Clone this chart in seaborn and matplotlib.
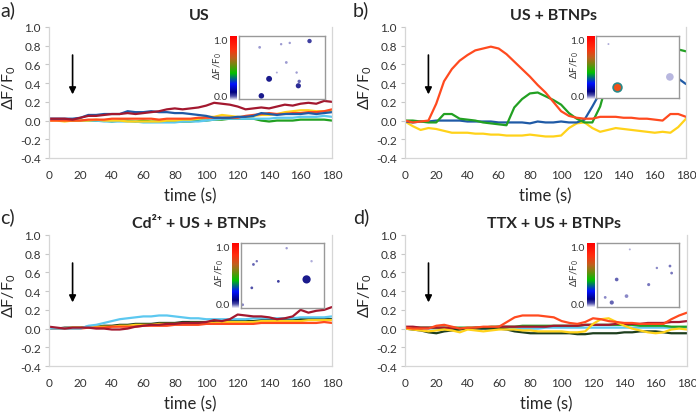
import numpy as np
import matplotlib
matplotlib.use("Agg")
import matplotlib.pyplot as plt
from matplotlib.colors import LinearSegmentedColormap
import seaborn as sns

# ---------------- DATA ---------------- #
time_s = list(range(0, 181, 5))

# a) US
a_maroon = [0.02, 0.02, 0.02, 0.01, 0.03, 0.05, 0.05, 0.06, 0.07, 0.07, 0.08, 0.07, 0.08, 0.09, 0.10,
            0.12, 0.13, 0.12, 0.13, 0.14, 0.16, 0.19, 0.18, 0.17, 0.15, 0.12, 0.13, 0.14, 0.13, 0.15,
            0.17, 0.16, 0.18, 0.19, 0.18, 0.21, 0.20]
a_blue = [0.02, 0.02, 0.02, 0.02, 0.03, 0.06, 0.06, 0.07, 0.07, 0.07, 0.10, 0.09, 0.09, 0.10, 0.09,
          0.09, 0.08, 0.08, 0.07, 0.06, 0.05, 0.03, 0.03, 0.03, 0.04, 0.04, 0.05, 0.08, 0.07, 0.06,
          0.07, 0.07, 0.07, 0.08, 0.07, 0.08, 0.09]
a_orange = [0.00, 0.00, 0.00, 0.00, 0.00, 0.01, 0.01, 0.01, 0.02, 0.02, 0.02, 0.02, 0.02, 0.02, 0.01,
            0.02, 0.02, 0.02, 0.02, 0.03, 0.03, 0.03, 0.03, 0.03, 0.03, 0.05, 0.06, 0.07, 0.08, 0.07,
            0.07, 0.08, 0.08, 0.09, 0.09, 0.10, 0.12]
a_yellow = [0.00, 0.00, -0.01, 0.00, 0.00, 0.00, 0.01, 0.00, 0.00, 0.00, -0.01, -0.01, -0.01, -0.01, -0.01,
            0.00, 0.00, 0.01, 0.01, 0.02, 0.04, 0.04, 0.06, 0.05, 0.04, 0.04, 0.05, 0.06, 0.06, 0.07,
            0.09, 0.10, 0.11, 0.11, 0.10, 0.10, 0.10]
a_cyan = [0.01, 0.01, 0.01, 0.01, 0.00, 0.00, 0.00, -0.01, -0.01, -0.01, -0.01, -0.01, -0.02, -0.02, -0.02,
          -0.02, -0.02, -0.01, -0.01, -0.01, 0.00, 0.01, 0.02, 0.02, 0.02, 0.02, 0.02, 0.02, 0.02, 0.03,
          0.03, 0.03, 0.04, 0.04, 0.04, 0.05, 0.04]
a_green = [0.01, 0.01, 0.00, 0.00, 0.00, 0.00, 0.00, 0.00, -0.01, 0.00, 0.00, -0.01, 0.00, -0.01, -0.01,
           -0.01, -0.01, -0.01, -0.01, 0.00, 0.00, 0.01, 0.01, 0.02, 0.02, 0.02, 0.02, 0.00, -0.01, 0.00,
           0.00, 0.00, 0.01, 0.01, 0.01, 0.01, 0.00]

# b) US + BTNPs
b_orange = [0.00, -0.02, -0.01, 0.00, 0.18, 0.42, 0.55, 0.64, 0.70, 0.75, 0.77, 0.79, 0.77, 0.71, 0.63,
            0.55, 0.47, 0.38, 0.30, 0.20, 0.10, 0.05, 0.03, 0.02, 0.02, 0.04, 0.04, 0.04, 0.03, 0.03,
            0.02, 0.02, 0.01, 0.00, 0.07, 0.07, 0.04]
b_green = [0.00, 0.00, -0.01, -0.02, -0.02, 0.07, 0.07, 0.02, 0.01, 0.00, -0.02, -0.03, -0.04, -0.05, 0.14,
           0.23, 0.29, 0.30, 0.26, 0.22, 0.17, 0.08, 0.02, -0.02, -0.02, 0.15, 0.45, 0.62, 0.72, 0.77,
           0.79, 0.80, 0.79, 0.78, 0.77, 0.76, 0.74]
b_blue = [-0.01, -0.02, -0.01, -0.01, 0.00, 0.00, 0.00, 0.00, -0.01, -0.01, -0.01, -0.01, -0.02, -0.02, -0.02,
          -0.02, -0.03, -0.01, -0.02, -0.02, -0.01, -0.02, -0.02, 0.01, 0.15, 0.30, 0.42, 0.50, 0.55, 0.57,
          0.58, 0.57, 0.55, 0.52, 0.48, 0.45, 0.39]
b_yellow = [-0.01, -0.06, -0.10, -0.08, -0.09, -0.11, -0.13, -0.13, -0.13, -0.14, -0.14, -0.15, -0.15, -0.16, -0.16,
            -0.16, -0.15, -0.16, -0.17, -0.17, -0.16, -0.08, -0.03, -0.02, -0.08, -0.12, -0.10, -0.08, -0.09, -0.10,
            -0.11, -0.12, -0.13, -0.12, -0.13, -0.07, 0.02]

# c) Cd2+ + US + BTNPs
c_cyan = [0.00, 0.00, 0.00, 0.00, 0.00, 0.03, 0.04, 0.06, 0.08, 0.10, 0.11, 0.12, 0.13, 0.13, 0.14,
          0.14, 0.13, 0.12, 0.11, 0.11, 0.10, 0.10, 0.10, 0.10, 0.10, 0.10, 0.11, 0.11, 0.11, 0.11,
          0.11, 0.11, 0.12, 0.12, 0.12, 0.12, 0.13]
c_maroon = [0.02, 0.01, 0.00, 0.01, 0.01, 0.01, 0.00, 0.00, -0.01, -0.01, 0.00, 0.02, 0.03, 0.04, 0.04,
            0.05, 0.05, 0.06, 0.06, 0.06, 0.07, 0.09, 0.08, 0.10, 0.15, 0.14, 0.13, 0.13, 0.12, 0.10,
            0.11, 0.13, 0.20, 0.17, 0.19, 0.20, 0.23]
c_dkgreen = [0.00, 0.00, 0.01, 0.01, 0.01, 0.02, 0.02, 0.03, 0.03, 0.04, 0.04, 0.05, 0.05, 0.05, 0.06,
             0.06, 0.06, 0.07, 0.07, 0.07, 0.07, 0.07, 0.08, 0.08, 0.08, 0.08, 0.08, 0.09, 0.09, 0.09,
             0.09, 0.09, 0.10, 0.10, 0.10, 0.10, 0.10]
c_yellow = [0.00, 0.00, 0.00, 0.01, 0.01, 0.01, 0.02, 0.02, 0.02, 0.03, 0.03, 0.04, 0.04, 0.04, 0.05,
            0.05, 0.05, 0.05, 0.06, 0.06, 0.06, 0.06, 0.07, 0.07, 0.07, 0.07, 0.07, 0.08, 0.08, 0.08,
            0.08, 0.08, 0.08, 0.09, 0.09, 0.09, 0.09]
c_orange = [0.00, 0.00, 0.00, 0.00, 0.00, 0.01, 0.01, 0.01, 0.02, 0.02, 0.02, 0.02, 0.03, 0.03, 0.03,
            0.03, 0.04, 0.04, 0.04, 0.04, 0.05, 0.05, 0.05, 0.05, 0.05, 0.05, 0.05, 0.06, 0.06, 0.06,
            0.06, 0.06, 0.06, 0.06, 0.06, 0.07, 0.06]

# d) TTX + US + BTNPs
d_cyan = [0.00, 0.00, 0.00, 0.00, 0.00, 0.00, 0.00, 0.00, 0.00, 0.00, 0.00, 0.00, 0.00, 0.00, 0.00,
          0.00, 0.00, 0.00, 0.01, 0.01, 0.01, 0.01, 0.01, 0.01, 0.01, 0.01, 0.01, 0.01, 0.01, 0.01,
          0.01, 0.01, 0.01, 0.01, 0.01, 0.01, 0.01]
d_green = [0.01, 0.01, 0.01, 0.01, 0.01, 0.01, 0.01, 0.01, 0.01, 0.01, 0.01, 0.02, 0.02, 0.02, 0.02,
           0.03, 0.03, 0.03, 0.03, 0.03, 0.03, 0.03, 0.03, 0.04, 0.04, 0.04, 0.04, 0.04, 0.04, 0.04,
           0.03, 0.03, 0.03, 0.03, 0.02, 0.02, 0.02]
d_maroon = [0.02, 0.02, 0.01, 0.01, 0.01, 0.01, 0.00, 0.00, 0.00, 0.01, 0.01, 0.01, 0.02, 0.02, 0.02,
            0.02, 0.02, 0.02, 0.02, 0.03, 0.03, 0.03, 0.03, 0.04, 0.04, 0.04, 0.04, 0.05, 0.05, 0.05,
            0.05, 0.06, 0.06, 0.06, 0.07, 0.07, 0.08]
d_dkgreen = [0.00, -0.01, -0.02, -0.04, -0.05, -0.03, -0.02, -0.01, 0.00, 0.00, 0.00, 0.00, 0.00, -0.01, -0.03,
             -0.04, -0.05, -0.05, -0.05, -0.05, -0.05, -0.05, -0.06, -0.06, -0.05, -0.05, -0.05, -0.05, -0.04, -0.04,
             -0.03, -0.03, -0.03, -0.04, -0.05, -0.05, -0.05]
d_yellow = [0.00, -0.01, -0.02, -0.03, -0.02, -0.01, -0.02, -0.04, -0.01, -0.02, -0.03, -0.02, -0.01, -0.01, -0.01,
            -0.02, -0.02, -0.03, -0.03, -0.03, -0.03, -0.04, -0.04, -0.03, 0.05, 0.10, 0.11, 0.07, 0.03, 0.00,
            -0.02, -0.04, -0.05, -0.04, -0.01, 0.00, -0.01]
d_orange = [0.01, 0.00, 0.00, 0.00, 0.03, 0.04, 0.02, 0.00, 0.01, 0.01, 0.02, 0.02, 0.02, 0.07, 0.12,
            0.14, 0.14, 0.14, 0.13, 0.12, 0.08, 0.06, 0.05, 0.07, 0.11, 0.10, 0.08, 0.07, 0.06, 0.06,
            0.05, 0.05, 0.05, 0.05, 0.10, 0.14, 0.17]

# inset "cells" (x, y in the image box, 0..1), size, shade (0 faint .. 1 dark)
a_cells_x = [0.26, 0.35, 0.69, 0.82, 0.24, 0.49, 0.59, 0.55, 0.67, 0.44, 0.70]
a_cells_y = [0.05, 0.32, 0.21, 0.92, 0.82, 0.87, 0.89, 0.58, 0.42, 0.42, 0.28]
a_cells_s = [16, 18, 14, 10, 4, 3, 3, 4, 3, 2, 6]
a_cells_k = [1.0, 1.0, 0.9, 0.8, 0.3, 0.3, 0.3, 0.3, 0.3, 0.2, 0.6]
b_cells_x = [0.89, 0.15]
b_cells_y = [0.34, 0.87]
b_cells_s = [30, 2]
b_cells_k = [0.15, 0.2]
c_cells_x = [0.79, 0.15, 0.19, 0.45, 0.13, 0.55, 0.85, 0.02]
c_cells_y = [0.44, 0.67, 0.72, 0.41, 0.31, 0.92, 0.72, 0.05]
c_cells_s = [35, 4, 3, 4, 4, 3, 3, 4]
c_cells_k = [1.0, 0.6, 0.5, 0.8, 0.7, 0.3, 0.2, 0.4]
d_cells_x = [0.18, 0.10, 0.24, 0.36, 0.63, 0.73, 0.89, 0.91, 0.40]
d_cells_y = [0.07, 0.15, 0.43, 0.17, 0.35, 0.61, 0.64, 0.53, 0.90]
d_cells_s = [9, 4, 7, 7, 5, 3, 4, 4, 2]
d_cells_k = [0.6, 0.4, 0.6, 0.4, 0.5, 0.4, 0.5, 0.5, 0.2]
b_hot_x = [0.25]
b_hot_y = [0.18]

# ---------------- STYLE ---------------- #
sns.set_style("white")
plt.rcParams["font.family"] = ["Lato", "DejaVu Sans"]
plt.rcParams["mathtext.fontset"] = "custom"
plt.rcParams["mathtext.rm"] = "Lato"
plt.rcParams["mathtext.it"] = "Lato:italic"
plt.rcParams["mathtext.bf"] = "Lato:bold"

MAROON = "#a3182f"
BLUE = "#1f5aa6"
ORANGE = "#ff4a1f"
YELLOW = "#ffd21a"
CYAN = "#5cc8f0"
GREEN = "#22a022"
DKGREEN = "#1e3f1e"

W, H = 696, 414
fig = plt.figure(figsize=(W / 100, H / 100), dpi=100)


def px_axes(left, top, right, bottom):
    return fig.add_axes([left / W, 1 - bottom / H, (right - left) / W, (bottom - top) / H])


cmap = LinearSegmentedColormap.from_list("dff", [
    (0.0, "#f2f0fa"), (0.06, "#4a4aa8"), (0.12, "#000080"), (0.25, "#0010ff"),
    (0.42, "#00c000"), (0.55, "#6f8a10"), (0.66, "#c0601e"), (0.8, "#ff3010"), (1.0, "#ff0000")])
cell_cmap = LinearSegmentedColormap.from_list("cell", ["#d4d2ee", "#1a1a8c"])

panels = [
    dict(letter="a)", title="US", box=(49, 28, 332, 159), lx=0, ly=0,
         lines=[(a_green, GREEN), (a_cyan, CYAN), (a_yellow, YELLOW), (a_orange, ORANGE),
                (a_blue, BLUE), (a_maroon, MAROON)],
         cbar=(230, 37, 237, 101), img=(239, 37, 325, 100),
         cells=(a_cells_x, a_cells_y, a_cells_s, a_cells_k)),
    dict(letter="b)", title="US + BTNPs", box=(405, 28, 686, 159), lx=353, ly=0,
         lines=[(b_yellow, YELLOW), (b_blue, BLUE), (b_green, GREEN), (b_orange, ORANGE)],
         cbar=(587, 37, 595, 100), img=(596, 37, 679, 99),
         cells=(b_cells_x, b_cells_y, b_cells_s, b_cells_k)),
    dict(letter="c)", title="Cd²⁺ + US + BTNPs", box=(49, 236, 332, 367), lx=0, ly=207,
         lines=[(c_dkgreen, DKGREEN), (c_yellow, YELLOW), (c_orange, ORANGE),
                (c_cyan, CYAN), (c_maroon, MAROON)],
         cbar=(232, 244, 239, 309), img=(241, 244, 324, 309),
         cells=(c_cells_x, c_cells_y, c_cells_s, c_cells_k)),
    dict(letter="d)", title="TTX + US + BTNPs", box=(405, 236, 687, 367), lx=353, ly=207,
         lines=[(d_cyan, CYAN), (d_green, GREEN), (d_maroon, MAROON), (d_dkgreen, DKGREEN),
                (d_yellow, YELLOW), (d_orange, ORANGE)],
         cbar=(587, 244, 595, 308), img=(597, 244, 679, 308),
         cells=(d_cells_x, d_cells_y, d_cells_s, d_cells_k)),
]

for p in panels:
    ax = px_axes(*p["box"])
    for vals, col in p["lines"]:
        sns.lineplot(x=time_s, y=vals, color=col, lw=1.6, ax=ax)

    ax.set_xlim(0, 180)
    ax.set_ylim(-0.4, 1.0)
    ax.set_xticks(range(0, 181, 20))
    ax.set_yticks(np.arange(-0.4, 1.01, 0.2))
    ax.set_yticklabels([f"{v:.1f}" for v in np.arange(-0.4, 1.01, 0.2)])
    ax.tick_params(axis="both", labelsize=8.5, colors="#333333")
    ax.tick_params(axis="y", length=3, width=0.8, color="#c8c8c8", pad=3, left=True)
    ax.tick_params(axis="x", length=0, pad=8)
    ax.spines["top"].set_visible(False)
    for s in ["left", "bottom", "right"]:
        ax.spines[s].set_color("#d6d6d6")
        ax.spines[s].set_linewidth(0.9)

    ax.set_xlabel("time (s)", fontsize=12, labelpad=5)
    ax.set_ylabel("ΔF/F$_0$", fontsize=11.5)
    # right edge of the rotated label sits ~31 px left of the axis
    ax.yaxis.set_label_coords(-31 / 283, 0.54)
    ax.set_title(p["title"], fontsize=11.5, fontweight="bold", x=0.53, pad=6)
    fig.text(p["lx"] / W, 1 - (p["ly"] + 1) / H, p["letter"], fontsize=14, va="top", ha="left")

    ax.annotate("", xy=(15, 0.25), xytext=(15, 0.73),
                arrowprops=dict(arrowstyle="-|>", color="black", lw=1.2, mutation_scale=10))

    # inset colour scale
    cl, ct, cr, cb = p["cbar"]
    cax = px_axes(cl, ct, cr, cb)
    cax.imshow(np.linspace(0, 1, 256).reshape(-1, 1), cmap=cmap, origin="lower", aspect="auto")
    cax.set_xticks([])
    cax.set_yticks([])
    for s in cax.spines.values():
        s.set_visible(False)
    fig.text((cl - 2) / W, 1 - (ct + 5) / H, "1.0", fontsize=7.5, ha="right", va="center", color="#333333")
    fig.text((cl - 2) / W, 1 - (cb - 3) / H, "0.0", fontsize=7.5, ha="right", va="center", color="#333333")
    fig.text((cl - 12) / W, 1 - ((ct + cb) / 2 - 3) / H, "ΔF/F$_0$", fontsize=7, rotation=90,
             ha="center", va="center", color="#333333")

    # inset image
    iax = px_axes(*p["img"])
    iax.set_facecolor("white")
    cx, cy, cs, ck = p["cells"]
    iax.scatter(cx, cy, s=cs, c=ck, cmap=cell_cmap, vmin=0, vmax=1, edgecolor="none")
    if p["letter"] == "b)":
        iax.scatter(b_hot_x, b_hot_y, s=40, color="#f05018", edgecolor="#2a8a8a", linewidth=1.2)
    iax.set_xlim(0, 1)
    iax.set_ylim(0, 1)
    iax.set_xticks([])
    iax.set_yticks([])
    for s in iax.spines.values():
        s.set_color("#999999")
        s.set_linewidth(1.0)

fig.savefig("out.png", dpi=100)
